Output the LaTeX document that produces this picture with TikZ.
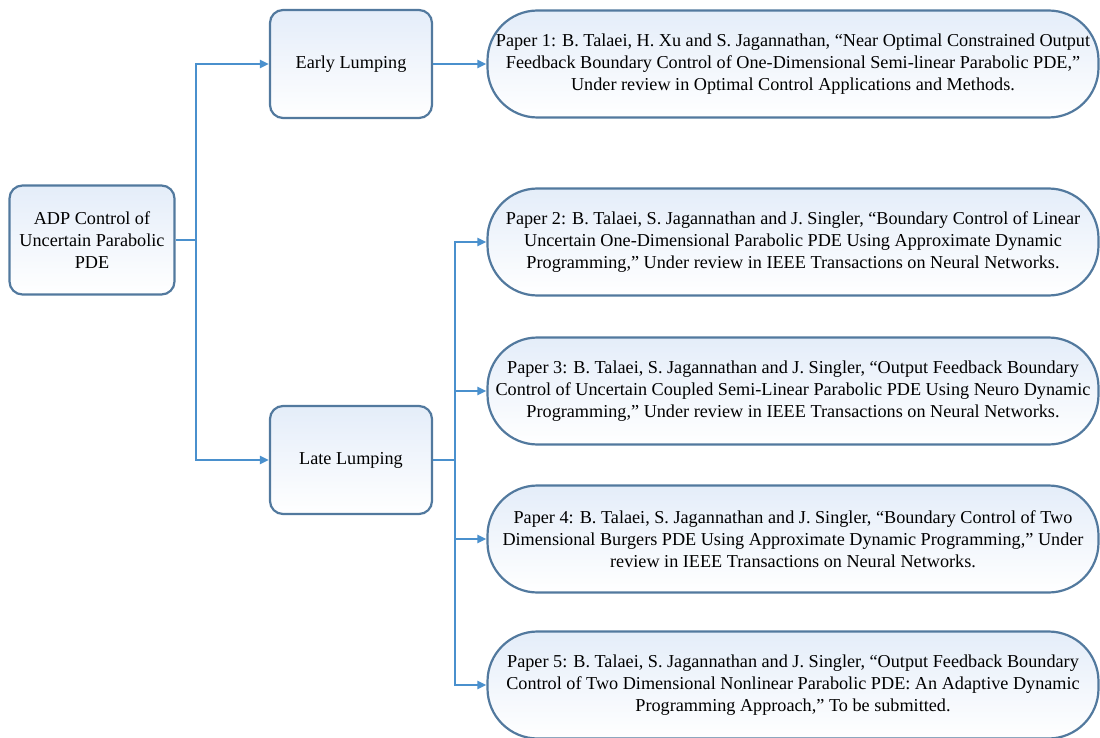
\documentclass[tikz,border=0pt]{standalone}
\usepackage{fontspec}
\setmainfont{Liberation Serif}
\usetikzlibrary{arrows.meta, positioning}
\definecolor{cedge}{HTML}{52799E}
\definecolor{clink}{HTML}{4A90CD}
\definecolor{cfill}{HTML}{E4EDF9}
\tikzset{
  every picture/.style={font=\fontsize{18.2}{22}\selectfont, line width=2.2pt},
  box/.style={draw=cedge, top color=cfill, bottom color=white, rounded corners=13pt, align=center, minimum width=162pt, minimum height=108pt, inner sep=4pt},
  paper/.style={draw=cedge, top color=cfill, bottom color=white, rounded corners=50pt, align=center, minimum width=611pt, minimum height=107pt, inner sep=2pt},
  link/.style={draw=clink, line width=2.2pt},
  arrow/.style={link, -{Triangle[length=9pt, width=8pt]}},
}

\begin{document}
\begin{tikzpicture}[x=1pt, y=-1pt]
  \useasboundingbox (0,0) rectangle (1100,738);
  \node[box, minimum width=165pt, minimum height=109pt] (root) at (92,240) {ADP Control of\\ Uncertain Parabolic\\ PDE};
  % lumping
  \node[box] (early) at (351,64) {Early Lumping};
  \node[box] (late) at (351,460) {Late Lumping};
  \coordinate (split1) at (196,240);
  \draw[link] (root) -- (split1);
  \draw[arrow] (split1) |- (early);
  \draw[arrow] (split1) |- (late);
  % papers
  \node[paper] (p1) at (793,64) {Paper 1: B. Talaei, H. Xu and S. Jagannathan, “Near Optimal Constrained Output\\ Feedback Boundary Control of One-Dimensional Semi-linear Parabolic PDE,”\\ Under review in Optimal Control Applications and Methods.};
  \node[paper] (p2) at (793,242) {Paper 2: B. Talaei, S. Jagannathan and J. Singler, “Boundary Control of Linear\\ Uncertain One-Dimensional Parabolic PDE Using Approximate Dynamic\\ Programming,” Under review in IEEE Transactions on Neural Networks.};
  \node[paper] (p3) at (793,391) {Paper 3: B. Talaei, S. Jagannathan and J. Singler, “Output Feedback Boundary\\ Control of Uncertain Coupled Semi-Linear Parabolic PDE Using Neuro Dynamic\\ Programming,” Under review in IEEE Transactions on Neural Networks.};
  \node[paper] (p4) at (793,539) {Paper 4: B. Talaei, S. Jagannathan and J. Singler, “Boundary Control of Two\\ Dimensional Burgers PDE Using Approximate Dynamic Programming,” Under\\ review in IEEE Transactions on Neural Networks.};
  \node[paper] (p5) at (793,685) {Paper 5: B. Talaei, S. Jagannathan and J. Singler, “Output Feedback Boundary\\ Control of Two Dimensional Nonlinear Parabolic PDE: An Adaptive Dynamic\\ Programming Approach,” To be submitted.};
  \draw[arrow] (early) -- (p1);
  \coordinate (split2) at (455,460);
  \draw[link] (late) -- (split2);
  \foreach \p in {p2,p3,p4,p5}
    \draw[arrow] (split2) |- (\p);
\end{tikzpicture}
\end{document}
